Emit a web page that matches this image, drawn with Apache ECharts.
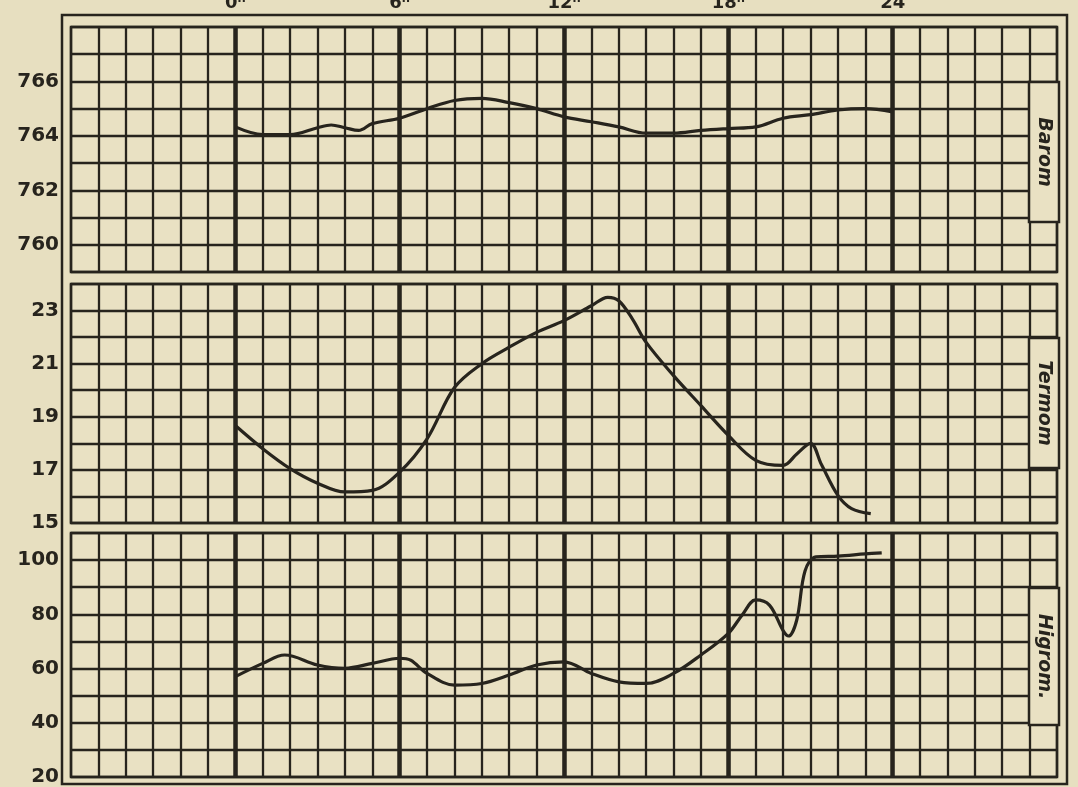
<!DOCTYPE html>
<html>
<head>
<meta charset="utf-8">
<script src="https://cdn.jsdelivr.net/npm/echarts@6/dist/echarts.min.js"></script>
<style>
  html, body { margin: 0; background: #e7dfc0; }
  #chart { width: 1078px; height: 787px; }
</style>
</head>
<body>
<div id="chart"></div>
<script>
  // hour marks printed above the sheet
  const hourTicks = [0, 6, 12, 18, 24];
  const hourLabels = ['0ʰ', '6ʰ', '12ʰ', '18ʰ', '24'];
  const panelNames = ['Barom', 'Termom', 'Higrom.'];

  // barometer, mm
  const baromHours = [0, 1, 2, 3, 3.5, 4, 4.5, 5, 6, 7, 8, 9, 10, 11, 12, 13, 14, 15, 16, 17, 18, 19, 20, 21, 22, 23, 24];
  const baromValues = [764.33, 764.05, 764.05, 764.3, 764.4, 764.3, 764.2, 764.45, 764.65, 765.0, 765.3, 765.38, 765.22, 765.0, 764.7, 764.52, 764.33, 764.1, 764.1, 764.2, 764.27, 764.33, 764.65, 764.78, 764.95, 765.0, 764.88];

  // thermometer, degrees
  const tempHours = [0, 1, 2, 3, 4, 5, 6, 7, 8, 9, 10, 11, 12, 13, 13.6, 14, 14.5, 15, 16, 17, 18, 19, 20, 20.5, 21, 21.4, 22, 22.5, 23.2];
  const tempValues = [18.67, 17.8, 17.05, 16.5, 16.17, 16.23, 16.92, 18.17, 20.1, 21.0, 21.62, 22.18, 22.62, 23.18, 23.5, 23.37, 22.68, 21.8, 20.55, 19.42, 18.3, 17.36, 17.17, 17.6, 18.0, 17.2, 16.04, 15.54, 15.35];

  // hygrometer, percent
  const hygroHours = [0, 1, 1.8, 3, 4, 5, 6, 6.4, 7, 8, 9, 10, 11, 12, 13, 14, 15, 16, 17, 18, 18.5, 19, 19.5, 20, 20.2, 20.5, 20.8, 21.2, 22, 23, 23.6];
  const hygroValues = [57, 61.9, 65, 61.3, 60.1, 61.9, 63.8, 63.1, 58.2, 53.9, 54.5, 57.6, 61.3, 62.5, 58.2, 55.1, 54.5, 58.2, 65, 73, 79.7, 85.3, 83.4, 74, 72, 78, 96, 101.2, 101.5, 102.3, 102.7];

  // printed y labels
  const baromTicks = [760, 762, 764, 766];
  const tempTicks = [15, 17, 19, 21, 23];
  const hygroTicks = [20, 40, 60, 80, 100];

  const ink = '#27241d';
  const paper = '#e9e1c3';

  const panels = [
    { top: 27, height: 245, min: 759, max: 768, step: 1, ticks: baromTicks, hours: baromHours, values: baromValues },
    { top: 284, height: 239, min: 15, max: 24, step: 1, ticks: tempTicks, hours: tempHours, values: tempValues },
    { top: 533, height: 244, min: 20, max: 110, step: 10, ticks: hygroTicks, hours: hygroHours, values: hygroValues }
  ];

  const chart = echarts.init(document.getElementById('chart'));

  const grid = panels.map(p => ({
    left: 71, right: 21, top: p.top, height: p.height,
    outerBoundsMode: 'none',
    show: true, backgroundColor: paper, borderColor: ink, borderWidth: 2.5
  }));

  const xAxis = [];
  panels.forEach((p, i) => {
    // fine hourly lines
    xAxis.push({
      type: 'value', gridIndex: i, min: -6, max: 30, interval: 1,
      axisLine: { show: false }, axisTick: { show: false }, axisLabel: { show: false },
      splitLine: { lineStyle: { color: ink, width: 2.3 } }
    });
    // heavy six-hour lines
    xAxis.push({
      type: 'value', gridIndex: i, min: -6, max: 30, interval: 6,
      position: 'top',
      axisLine: { show: false }, axisTick: { show: false },
      axisLabel: {
        show: i === 0, margin: 15, color: ink,
        fontFamily: 'DejaVu Sans', fontWeight: 'bold', fontSize: 18,
        formatter: v => {
          const k = hourTicks.indexOf(v);
          return k >= 0 ? hourLabels[k] : '';
        }
      },
      splitLine: { showMinLine: false, showMaxLine: false, lineStyle: { color: ink, width: 4.5 } }
    });
  });

  const yAxis = panels.map((p, i) => ({
    type: 'value', gridIndex: i, min: p.min, max: p.max, interval: p.step,
    axisLine: { show: false }, axisTick: { show: false },
    axisLabel: {
      margin: 12, color: ink, fontFamily: 'DejaVu Sans', fontWeight: 'bold', fontSize: 20,
      formatter: v => p.ticks.includes(v) ? String(v) : ''
    },
    splitLine: { lineStyle: { color: ink, width: 2.3 } }
  }));

  const series = panels.map((p, i) => ({
    type: 'line',
    xAxisIndex: i * 2, yAxisIndex: i,
    showSymbol: false, smooth: 0.35,
    lineStyle: { color: ink, width: 3.2 },
    data: p.hours.map((h, k) => [h, p.values[k]])
  }));

  // name tabs on the right side of each panel
  const tabs = [
    { y: 82, h: 140 },
    { y: 338, h: 130 },
    { y: 588, h: 137 }
  ];
  const graphic = [
    { type: 'rect', z: 50, shape: { x: 62, y: 15, width: 1005, height: 769 },
      style: { fill: 'none', stroke: ink, lineWidth: 2.5 } }
  ];
  tabs.forEach((t, i) => {
    graphic.push({ type: 'rect', z: 60, shape: { x: 1029, y: t.y, width: 30, height: t.h },
      style: { fill: paper, stroke: ink, lineWidth: 2.5 } });
    graphic.push({ type: 'text', z: 61, x: 1044, y: t.y + t.h / 2, rotation: -Math.PI / 2,
      style: { text: panelNames[i], fill: ink, fontFamily: 'DejaVu Sans', fontWeight: 'bold',
        fontStyle: 'italic', fontSize: 19, align: 'center', verticalAlign: 'middle' } });
  });

  chart.setOption({
    backgroundColor: '#e7dfc0',
    animation: false,
    grid, xAxis, yAxis, series, graphic
  });
</script>
</body>
</html>
